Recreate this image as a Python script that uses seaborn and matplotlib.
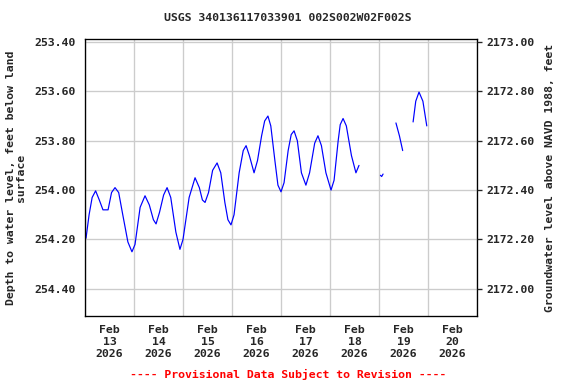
import numpy as np
import pandas as pd
import matplotlib
matplotlib.use('Agg')
import matplotlib.pyplot as plt
import matplotlib.dates as mdates
import seaborn as sns

# Hours after 2026-02-13 00:00 and depth to water (ft below land surface); None = data gap
hours = [0.5, 2.0, 3.5, 5.2, 7.0, 8.8, 11.3, 13.0, 14.7, 16.5, 18.5, 21.0, 23.0, 24.5, 27.0,
         29.4, 31.5, 33.5, 34.8, 36.5, 38.5, 40.2, 42.0, 44.5, 46.5, 48.0, 51.0, 53.9, 56.0,
         57.5, 58.8, 60.5, 62.5, 64.7, 66.5, 68.5, 70.0, 71.5, 73.0, 75.5, 77.5, 78.9, 80.5,
         82.8, 84.5, 86.5, 88.0, 89.6, 91.0, 93.0, 94.5, 96.0, 97.5, 99.5, 101.0, 102.4, 104.0,
         106.0, 108.2, 110.0, 112.5, 114.1, 115.8, 118.0, 120.5, 122.0, 124.0, 125.0, 126.4,
         128.0, 130.5, 132.7, 134.2, 139.0,
         144.7, 145.3, 146.0, 149.0,
         152.3, 154.0, 155.6, 158.0,
         160.7, 162.0, 163.6, 165.5, 167.4]
depth = [254.195, 254.10, 254.03, 254.003, 254.04, 254.08, 254.08, 254.01, 253.99, 254.01, 254.10,
         254.21, 254.25, 254.22, 254.07, 254.023, 254.06, 254.12, 254.137, 254.09, 254.02, 253.99,
         254.03, 254.17, 254.24, 254.20, 254.03, 253.95, 253.99, 254.04, 254.05, 254.01, 253.92,
         253.89, 253.93, 254.05, 254.12, 254.141, 254.10, 253.93, 253.84, 253.82, 253.86, 253.93,
         253.88, 253.78, 253.72, 253.70, 253.74, 253.88, 253.98, 254.007, 253.97, 253.84, 253.775,
         253.76, 253.80, 253.93, 253.98, 253.93, 253.81, 253.78, 253.82, 253.93, 254.00, 253.96,
         253.80, 253.735, 253.71, 253.74, 253.86, 253.93, 253.90, None,
         253.94, 253.945, 253.935, None,
         253.728, 253.78, 253.84, None,
         253.724, 253.64, 253.603, 253.64, 253.74]

start = pd.Timestamp('2026-02-13 00:00')
datum_offset = 2426.4  # land surface elevation, NAVD 1988

df = pd.DataFrame({'hours': hours, 'depth': pd.to_numeric(depth)})
df['time'] = start + pd.to_timedelta(df['hours'], unit='h')
df['seg'] = df['depth'].isna().cumsum()
df = df.dropna()

sns.set_style('white')
plt.rcParams['font.family'] = ['DejaVu Sans Mono']
plt.rcParams['font.weight'] = 'bold'
plt.rcParams['font.size'] = 8.6

fig = plt.figure(figsize=(6, 4), dpi=96)
ax = fig.add_axes([85 / 576, 1 - 316 / 384, 392 / 576, 277 / 384])

sns.lineplot(data=df, x='time', y='depth', units='seg', estimator=None,
             color='#0000ff', linewidth=0.9, ax=ax)

ax.set_ylim(254.51, 253.388)
ax.set_yticks(np.arange(253.4, 254.41, 0.2))
ax.yaxis.set_major_formatter(plt.FormatStrFormatter('%.2f'))
ax.set_xlim(start, start + pd.Timedelta(days=8))

ax.xaxis.set_major_locator(mdates.DayLocator())
ax.xaxis.set_major_formatter(plt.NullFormatter())
ax.xaxis.set_minor_locator(mdates.HourLocator(byhour=[12]))
ax.xaxis.set_minor_formatter(mdates.DateFormatter('%b\n%d\n%Y'))
ax.tick_params(axis='x', which='major', length=0)
ax.tick_params(axis='x', which='minor', length=0, pad=7, labelsize=8.6)
ax.tick_params(axis='y', length=0, pad=7, labelsize=8.6)
ax.grid(True, which='major', color='#cccccc', linewidth=1)
ax.set_axisbelow(True)
for s in ax.spines.values():
    s.set_color('black')
    s.set_linewidth(1)

ax.set_xlabel('')
ax.set_ylabel('Depth to water level, feet below land\nsurface', fontsize=8.6,
              fontweight='bold', labelpad=6, linespacing=1.0)

ax2 = ax.twinx()
lo, hi = ax.get_ylim()
ax2.set_ylim(datum_offset - lo, datum_offset - hi)
ax2.set_yticks(np.arange(2172.0, 2173.01, 0.2))
ax2.yaxis.set_major_formatter(plt.FormatStrFormatter('%.2f'))
ax2.tick_params(axis='y', length=4, width=1, pad=3, labelsize=8.6, direction='out')
ax2.set_ylabel('Groundwater level above NAVD 1988, feet', fontsize=8.6,
               fontweight='bold', labelpad=8)
for s in ax2.spines.values():
    s.set_visible(False)

fig.text(0.5, 1 - 18 / 384, 'USGS 340136117033901 002S002W02F002S', ha='center',
         va='center', fontsize=8.6, fontweight='bold')
fig.text(0.5, 1 - 374 / 384, '---- Provisional Data Subject to Revision ----', ha='center',
         va='center', fontsize=8.6, fontweight='bold', color='red')

fig.savefig('out.png', dpi=96)
